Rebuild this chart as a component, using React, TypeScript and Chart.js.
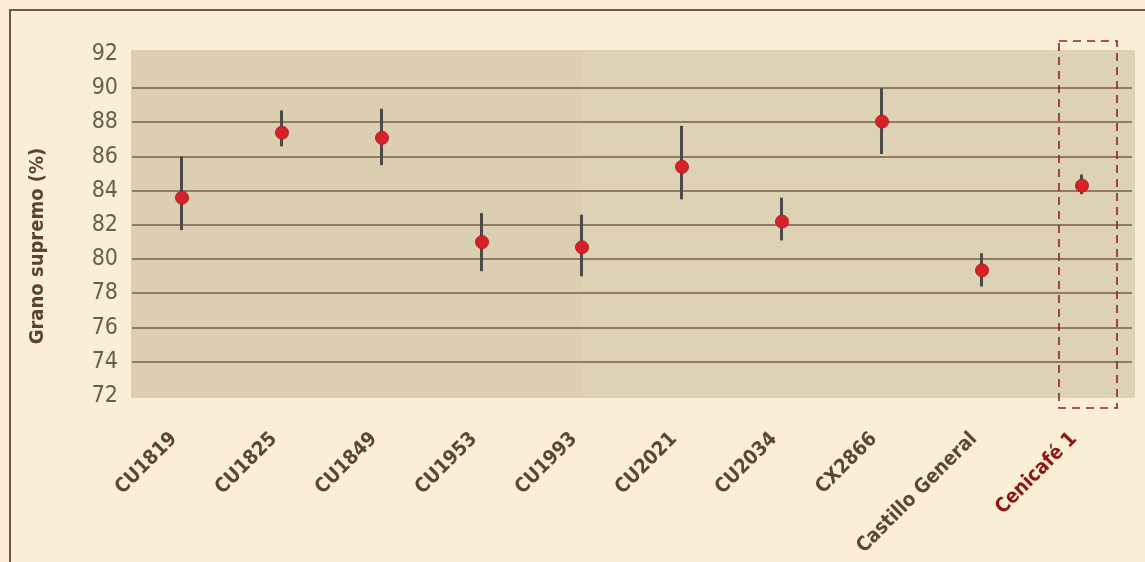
import React, { useEffect, useRef } from "react";
import { Chart, registerables } from "chart.js";

Chart.register(...registerables);

const categories = [
  "CU1819",
  "CU1825",
  "CU1849",
  "CU1953",
  "CU1993",
  "CU2021",
  "CU2034",
  "CX2866",
  "Castillo General",
  "Cenicafé 1",
];
const means = [83.6, 87.4, 87.1, 81.0, 80.7, 85.4, 82.2, 88.05, 79.35, 84.3];
const lows = [81.7, 86.6, 85.5, 79.3, 79.0, 83.5, 81.1, 86.15, 78.4, 83.8];
const highs = [86.0, 88.7, 88.8, 82.7, 82.6, 87.8, 83.6, 90.0, 80.35, 84.95];
const yMin = 72;
const yMax = 92;
const yStep = 2;
const yTitle = "Grano supremo (%)";
const highlightIndex = 9;

const NARROW = '"Liberation Sans Narrow", "DejaVu Sans Condensed", "Roboto", sans-serif';

const backgroundPlugin = {
  id: "bgPlugin",
  beforeDraw(chart: any) {
    const { ctx, width, height, chartArea, scales } = chart;
    ctx.save();
    ctx.fillStyle = "#faeed5";
    ctx.fillRect(0, 0, width, height);
    // frame
    ctx.strokeStyle = "#6e563a";
    ctx.lineWidth = 2;
    ctx.beginPath();
    ctx.moveTo(10, height);
    ctx.lineTo(10, 10);
    ctx.lineTo(width, 10);
    ctx.stroke();
    // shaded plot panel
    const left = chartArea.left - 1;
    const right = chartArea.right + 3;
    const top = chartArea.top - 4;
    const bottom = chartArea.bottom + 2;
    const split = scales.x.getPixelForValue(4);
    ctx.fillStyle = "#dccfb1";
    ctx.fillRect(left, top, split - left, bottom - top);
    ctx.fillStyle = "#ded2b5";
    ctx.fillRect(split, top, right - split, bottom - top);
    ctx.restore();
  },
};

const errorBarPlugin = {
  id: "errorBars",
  beforeDatasetsDraw(chart: any) {
    const { ctx, scales } = chart;
    ctx.save();
    ctx.strokeStyle = "#4b4b4b";
    ctx.lineWidth = 3;
    ctx.lineCap = "butt";
    for (let i = 0; i < categories.length; i++) {
      const x = scales.x.getPixelForValue(i) - 0.5;
      ctx.beginPath();
      ctx.moveTo(x, scales.y.getPixelForValue(highs[i]));
      ctx.lineTo(x, scales.y.getPixelForValue(lows[i]));
      ctx.stroke();
    }
    ctx.restore();
  },
  afterDraw(chart: any) {
    const { ctx, scales, chartArea } = chart;
    ctx.save();
    // highlight box
    const cx = scales.x.getPixelForValue(highlightIndex);
    ctx.strokeStyle = "#922222";
    ctx.lineWidth = 1.6;
    ctx.setLineDash([8, 6]);
    ctx.strokeRect(cx - 23, chartArea.top - 13, 58, chartArea.bottom - chartArea.top + 25);
    ctx.setLineDash([]);
    ctx.restore();

    // x category labels, rotated 45°
    ctx.save();
    ctx.font = `bold 20px ${NARROW}`;
    ctx.textAlign = "right";
    ctx.textBaseline = "middle";
    for (let i = 0; i < categories.length; i++) {
      const x = scales.x.getPixelForValue(i);
      ctx.save();
      ctx.translate(x - 8, chartArea.bottom + 40);
      ctx.rotate(-Math.PI / 4);
      ctx.fillStyle = i === highlightIndex ? "#8c1616" : "#5c4631";
      ctx.fillText(categories[i], 0, 0);
      ctx.restore();
    }
    ctx.restore();

    // y title
    ctx.save();
    ctx.translate(38, (chartArea.top + chartArea.bottom) / 2 + 21);
    ctx.rotate(-Math.PI / 2);
    ctx.fillStyle = "#5a4630";
    ctx.font = `bold 20px ${NARROW}`;
    ctx.textAlign = "center";
    ctx.textBaseline = "middle";
    ctx.fillText(yTitle, 0, 0);
    ctx.restore();
  },
};

export default function App() {
  const canvasRef = useRef<HTMLCanvasElement | null>(null);

  useEffect(() => {
    document.body.style.margin = "0";
    const canvas = canvasRef.current;
    if (!canvas) return;
    const chart = new Chart(canvas, {
      type: "line",
      data: {
        labels: categories,
        datasets: [
          {
            data: means,
            showLine: false,
            pointRadius: 6.5,
            pointHoverRadius: 6.5,
            pointBackgroundColor: "#d5212a",
            pointBorderColor: "#b91c22",
            pointBorderWidth: 1,
          },
        ],
      },
      options: {
        responsive: false,
        animation: false,
        devicePixelRatio: 1,
        layout: { padding: { left: 0, top: 54, right: 13, bottom: 0 } },
        plugins: {
          legend: { display: false },
          tooltip: { enabled: false },
        },
        scales: {
          x: {
            type: "category",
            offset: true,
            grid: { display: false, drawTicks: false },
            border: { display: false },
            afterFit: (scale: any) => {
              scale.height = 166;
            },
            ticks: { display: false, autoSkip: false },
          },
          y: {
            min: yMin,
            max: yMax,
            grid: {
              drawTicks: false,
              lineWidth: 2,
              color: (ctx: any) =>
                ctx.tick && (ctx.tick.value === yMin || ctx.tick.value === yMax)
                  ? "rgba(0,0,0,0)"
                  : "#8e7d63",
            },
            border: { display: false },
            afterFit: (scale: any) => {
              scale.width = 132;
            },
            ticks: {
              stepSize: yStep,
              padding: 14,
              font: { family: NARROW, size: 23 },
              color: "#6b5d4d",
            },
          },
        },
      },
      plugins: [backgroundPlugin, errorBarPlugin],
    });
    return () => chart.destroy();
  }, []);

  return (
    <div style={{ width: 1145, height: 562 }}>
      <canvas ref={canvasRef} width={1145} height={562} style={{ display: "block" }} />
    </div>
  );
}
